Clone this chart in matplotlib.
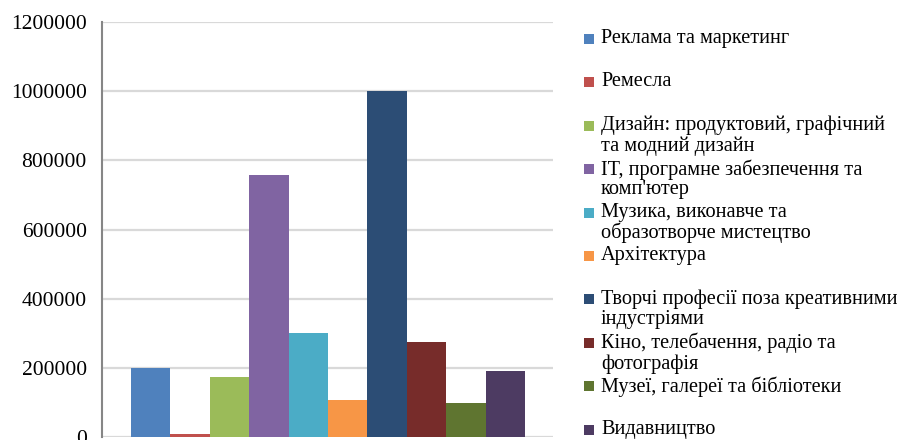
import numpy as np
import matplotlib.pyplot as plt
from matplotlib.patches import Rectangle

# дані
categories = ['Реклама та маркетинг', 'Ремесла',
              'Дизайн: продуктовий, графічний\nта модний дизайн',
              'IT, програмне забезпечення та\nкомп\'ютер',
              'Музика, виконавче та\nобразотворче мистецтво',
              'Архітектура',
              'Творчі професії поза креативними\nіндустріями',
              'Кіно, телебачення, радіо та\nфотографія',
              'Музеї, галереї та бібліотеки',
              'Видавництво']
values = [199000, 8700, 173500, 757000, 300000, 107000, 1000000, 275000, 98000, 191000]
colors = ['#4F81BD', '#C0504D', '#9BBB59', '#8064A2', '#4BACC6',
          '#F79646', '#2C4D75', '#772C2A', '#5F7530', '#4D3B62']
yticks = [0, 200000, 400000, 600000, 800000, 1000000, 1200000]

plt.rcParams['font.family'] = ['Liberation Serif', 'DejaVu Serif']

fig = plt.figure(figsize=(8.98, 4.40), dpi=100)
ax = fig.add_axes([102/898, 3/440, 451/898, 415/440])

x = np.arange(len(values))
ax.bar(x, values, width=1.0, color=colors, zorder=3)

ax.set_ylim(0, 1200000)
ax.set_xlim(-1.236, 10.21)
ax.set_yticks(yticks)
ax.set_yticklabels([str(v) for v in yticks], fontsize=15.5)
ax.set_xticks([])
ax.tick_params(axis='y', length=0, pad=11)
ax.grid(axis='y', color='#d9d9d9', linewidth=1.6, zorder=0)
for s in ['top', 'right', 'bottom']:
    ax.spines[s].set_visible(False)
ax.spines['left'].set_color('#868686')
ax.spines['left'].set_linewidth(1.5)
ax.spines['left'].set_zorder(4)

# легенда
y0 = 39
step = 43.4
for i, (lab, c) in enumerate(zip(categories, colors)):
    yc = y0 + i * step
    fig.patches.append(Rectangle((584/898, 1 - (yc + 5)/440), 10/898, 10/440,
                                 transform=fig.transFigure, facecolor=c,
                                 edgecolor='none'))
    fig.text(601/898, 1 - (yc - 10)/440, lab, fontsize=14.6, va='top', ha='left',
             linespacing=1.05)

fig.savefig('out.png', dpi=100)
